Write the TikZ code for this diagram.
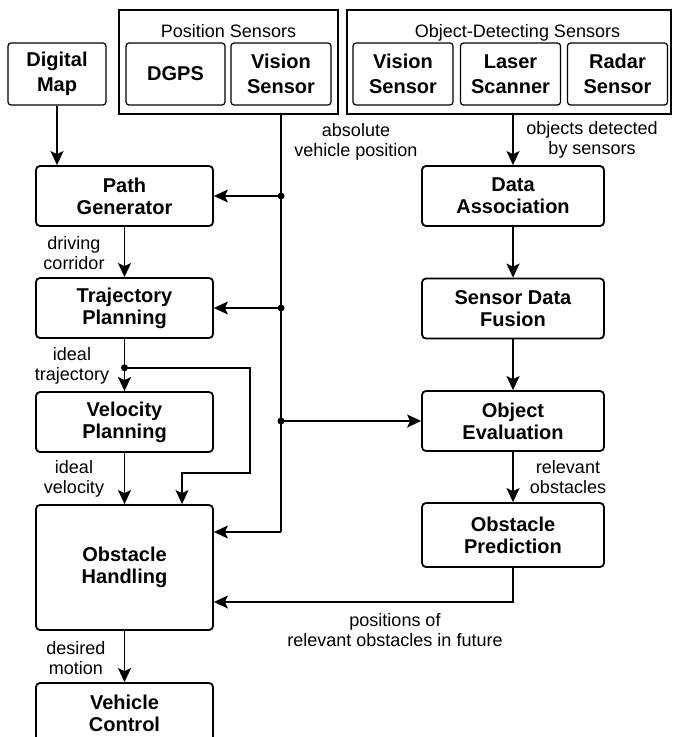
\documentclass[tikz,border=0pt]{standalone}
\usepackage{fontspec}
\setmainfont{Liberation Sans}
\usetikzlibrary{positioning}
\usetikzlibrary{arrows.meta}

\begin{document}
\begin{tikzpicture}[x=1pt, y=1pt, node distance=56pt, on grid, >={Stealth[length=7pt,width=6.5pt,inset=1.5pt]},
      block/.style={draw, line width=0.9pt, rounded corners=2pt, minimum width=88.5pt, minimum height=30pt, align=center, inner sep=0pt, font=\bfseries\fontsize{10}{11}\selectfont},
      sensor/.style={draw, line width=0.6pt, rounded corners=1.5pt, minimum width=50pt, minimum height=31pt, align=center, inner sep=0pt, font=\bfseries\fontsize{10}{12.5}\selectfont},
      groupbox/.style={draw, line width=0.6pt, minimum height=52pt, inner sep=0pt},
      lbl/.style={align=center, inner sep=0pt, font=\fontsize{9}{10}\selectfont},
      junction/.style={circle, fill, inner sep=0pt, minimum size=3.5pt},
      conn/.style={line width=0.8pt}]

      \useasboundingbox (0,0) rectangle (336.5,-368.5);

      % left column
      \node[block] (pathgen) at (62.25,-98) {Path\\Generator};
      \node[block] (trajplan) [below=56pt of pathgen] {Trajectory\\Planning};
      \node[block] (velplan) [below=57pt of trajplan] {Velocity\\Planning};
      \node[block, minimum height=62.5pt] (obshand) [below=72.75pt of velplan] {Obstacle\\Handling};
      \node[block] (vehctrl) [below=72.75pt of obshand] {Vehicle\\Control};
      \node[sensor, minimum width=49pt] (digmap) [above left=61pt and 33.75pt of pathgen] {Digital\\Map};

      % right column
      \node[block, minimum width=91pt] (dataassoc) [right=194.25pt of pathgen] {Data\\Association};
      \node[block, minimum width=91pt] (fusion) [below=56.25pt of dataassoc] {Sensor Data\\Fusion};
      \node[block, minimum width=91pt] (objeval) [below=56.25pt of fusion] {Object\\Evaluation};
      \node[block, minimum width=91pt, minimum height=32pt] (obspred) [below=57pt of objeval] {Obstacle\\Prediction};

      % sensors
      \node[groupbox, minimum width=109.5pt] (possens) at (114.25,-31) {};
      \node[groupbox, minimum width=162pt] (objsens) at (254.5,-31) {};
      \node[lbl] (postitle) [below=7.5pt of possens.north] {Position Sensors};
      \node[lbl] (objtitle) [below=7.5pt of objsens.north, xshift=4.25pt] {Object-Detecting Sensors};
      \node[sensor, minimum width=49.5pt] (dgps) at (87.75,-37) {DGPS};
      \node[sensor] (posvis) [right=52.75pt of dgps] {Vision\\Sensor};
      \node[sensor] (objvis) [right=61pt of posvis] {Vision\\Sensor};
      \node[sensor] (laser) [right=53.75pt of objvis] {Laser\\Scanner};
      \node[sensor] (radar) [right=53.5pt of laser] {Radar\\Sensor};

      % junctions
      \coordinate (abstop) at (posvis |- possens.south);
      \node[junction] (j1) at (abstop |- pathgen) {};
      \node[junction] (j2) at (abstop |- trajplan) {};
      \node[junction] (j3) at (abstop |- objeval) {};
      \node[junction] (j4) [below=12.5pt of trajplan.south] {};
      \coordinate[above=17.75pt of obshand.east] (ohin1);
      \coordinate[below=17.25pt of obshand.east] (ohin2);
      \coordinate[right=28.75pt of obshand.north] (ohtop);
      \coordinate (brcorner) at (125,-236.5);

      % labels
      \node[lbl] (lblabs) [below right=40pt and 63.75pt of possens] {absolute\\vehicle position};
      \node[lbl] (lblobj) [below right=39pt and 41.5pt of objsens] {objects detected\\by sensors};
      \node[lbl] (lbldrive) [below left=28.5pt and 25.25pt of pathgen] {driving\\corridor};
      \node[lbl] (lbltraj) [below left=29pt and 26.25pt of trajplan] {ideal\\trajectory};
      \node[lbl] (lblvel) [below left=28.5pt and 25.25pt of velplan] {ideal\\velocity};
      \node[lbl] (lblmotion) [below left=45.25pt and 24.25pt of obshand] {desired\\motion};
      \node[lbl] (lblrel) [below right=28pt and 27.5pt of objeval] {relevant\\obstacles};
      \node[lbl] (lblfuture) [below left=47.5pt and 59pt of obspred] {positions of\\relevant obstacles in future};

      \path[->, conn]
        (pathgen) edge (trajplan)
        (trajplan) edge (velplan)
        (velplan) edge (obshand)
        (obshand) edge (vehctrl)
        (dataassoc) edge (fusion)
        (fusion) edge (objeval)
        (objeval) edge (obspred);

      \draw[->, conn] (digmap.south) -- (digmap.south |- pathgen.north);
      \draw[->, conn] (dataassoc |- objsens.south) -- (dataassoc.north);
      \draw[conn] (abstop) -- (abstop |- ohin1);
      \draw[->, conn] (abstop |- ohin1) -- (ohin1);
      \draw[->, conn] (j1.center) -- (pathgen.east);
      \draw[->, conn] (j2.center) -- (trajplan.east);
      \draw[->, conn] (j3.center) -- (objeval.west);
      \draw[->, conn] (j4.center) -| (brcorner) -| (ohtop);
      \draw[->, conn] (obspred.south) |- (ohin2);

\end{tikzpicture}
\end{document}
